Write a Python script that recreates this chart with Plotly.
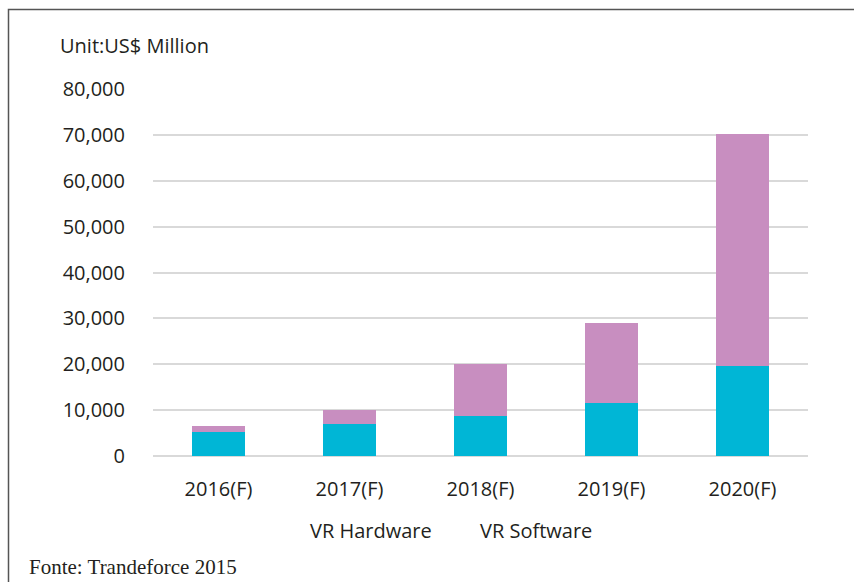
import plotly.graph_objects as go

categories = ["2016(F)", "2017(F)", "2018(F)", "2019(F)", "2020(F)"]
vr_hardware = [5200, 7000, 8800, 11600, 19600]
vr_software = [1350, 3050, 11250, 17400, 50500]
y_ticks = [0, 10000, 20000, 30000, 40000, 50000, 60000, 70000, 80000]

W, H = 854, 582
L, R, T, B = 153, 46, 89, 126
pw, ph = W - L - R, H - T - B


def px(x):
    return (x - L) / pw


def py(y):
    return (H - B - y) / ph


TXT = "#231F20"
FONT = "Open Sans"
FS = 20

fig = go.Figure()
fig.add_trace(go.Bar(x=categories, y=vr_hardware, name="VR Hardware",
                     marker=dict(color="#00B6D6", line=dict(width=0)), showlegend=False))
fig.add_trace(go.Bar(x=categories, y=vr_software, name="VR Software",
                     marker=dict(color="#C88EC0", line=dict(width=0)), showlegend=False))

fig.update_layout(
    barmode="stack",
    bargap=0.595,
    width=W, height=H,
    margin=dict(l=L, r=R, t=T, b=B),
    paper_bgcolor="white",
    plot_bgcolor="white",
    font=dict(family=FONT, size=FS, color=TXT),
    xaxis=dict(showgrid=False, showline=False, ticks="", ticklabelstandoff=19,
               tickfont=dict(family=FONT, size=FS, color=TXT)),
    yaxis=dict(range=[0, 80000], tickvals=y_ticks,
               ticktext=[f"{v:,}" for v in y_ticks],
               showgrid=True, gridcolor="#D9D9D9", gridwidth=1.5,
               zeroline=True, zerolinecolor="#D9D9D9", zerolinewidth=1.5,
               showline=False, ticks="", ticklabelstandoff=27,
               tickfont=dict(family=FONT, size=FS, color=TXT)),
    annotations=[
        dict(text="Unit:US$ Million", xref="paper", yref="paper", x=px(58), y=py(46),
             xanchor="left", yanchor="middle", showarrow=False,
             font=dict(family=FONT, size=FS, color=TXT)),
        dict(text="VR Hardware", xref="paper", yref="paper", x=px(308), y=py(530),
             xanchor="left", yanchor="middle", showarrow=False,
             font=dict(family=FONT, size=FS, color=TXT)),
        dict(text="VR Software", xref="paper", yref="paper", x=px(478), y=py(530),
             xanchor="left", yanchor="middle", showarrow=False,
             font=dict(family=FONT, size=FS, color=TXT)),
        dict(text="Fonte: Trandeforce 2015", xref="paper", yref="paper", x=px(27), y=py(567),
             xanchor="left", yanchor="middle", showarrow=False,
             font=dict(family="Liberation Serif", size=21, color=TXT)),
    ],
    shapes=[
        dict(type="rect", xref="paper", yref="paper",
             x0=px(8.5), x1=px(900), y0=py(640), y1=py(9.5),
             line=dict(color="#555555", width=1.5), fillcolor="rgba(0,0,0,0)", layer="above"),
    ],
)

fig.write_html("out.html")
